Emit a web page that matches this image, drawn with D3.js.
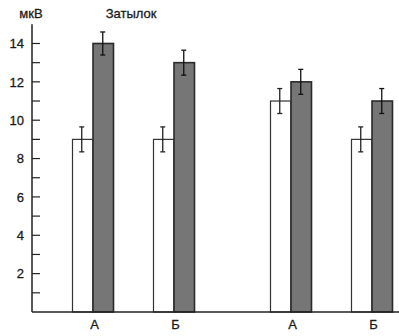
<!DOCTYPE html>
<html>
<head>
<meta charset="utf-8">
<script src="https://cdn.jsdelivr.net/npm/d3@7"></script>
<style>
  html, body { margin: 0; padding: 0; background: #fff; }
  svg { display: block; }
  text { font-family: "Liberation Sans", Arial, sans-serif; fill: #1a1a1a;
         stroke: #1a1a1a; stroke-width: 0.3; }
</style>
</head>
<body>
<svg id="chart" width="399" height="336"></svg>
<script>
// Two clusters of paired bars (А, Б) — occipital recording, µV
const clusters = ["I", "II"];
const conditions = ["А", "Б"];
// light (left) and dark (right) bar per condition, cluster by cluster
const lightValues = [9, 9, 11, 9];
const darkValues = [14, 13, 12, 11];
const lightErrors = [0.65, 0.65, 0.65, 0.65];
const darkErrors = [0.6, 0.65, 0.65, 0.65];
const yTicks = [2, 4, 6, 8, 10, 12, 14];
const yMinorTicks = [1, 3, 5, 7, 9, 11, 13];
const unitLabel = "мкВ";
const title = "Затылок";

const rows = [];
clusters.forEach((c, ci) => conditions.forEach((k, ki) => {
  const i = ci * conditions.length + ki;
  rows.push({ cluster: c, cond: k, light: lightValues[i], dark: darkValues[i],
              lightErr: lightErrors[i], darkErr: darkErrors[i] });
}));

const svg = d3.select("#chart");
const axisX = 32;
const y = d3.scaleLinear().domain([0, 15]).range([312, 24.3]);
const xCluster = d3.scalePoint().domain(clusters).range([133.5, 331.5]);
const xCond = d3.scalePoint().domain(conditions).range([-40.5, 40.5]);
const barW = 20.5;
const center = d => xCluster(d.cluster) + xCond(d.cond);

// bars
const g = svg.append("g");
g.selectAll("rect.light").data(rows).join("rect")
  .attr("class", "light")
  .attr("x", d => center(d) - barW)
  .attr("y", d => y(d.light))
  .attr("width", barW)
  .attr("height", d => y(0) - y(d.light))
  .attr("fill", "#fff")
  .attr("stroke", "#333")
  .attr("stroke-width", 1.2);

g.selectAll("rect.dark").data(rows).join("rect")
  .attr("class", "dark")
  .attr("x", d => center(d))
  .attr("y", d => y(d.dark))
  .attr("width", barW)
  .attr("height", d => y(0) - y(d.dark))
  .attr("fill", "#767676")
  .attr("stroke", "#2a2a2a")
  .attr("stroke-width", 1.6);

// error bars: vertical whisker plus top and bottom caps
function errorBars(cls, cx, val, err, color) {
  const eg = svg.append("g").attr("stroke", color).attr("stroke-width", 1.3);
  eg.selectAll("line.whisker-" + cls).data(rows).join("line")
    .attr("class", "whisker-" + cls)
    .attr("x1", d => cx(d)).attr("x2", d => cx(d))
    .attr("y1", d => y(val(d) + err(d))).attr("y2", d => y(val(d) - err(d)));
  [["top", 1], ["bottom", -1]].forEach(([name, sign]) => {
    eg.selectAll("line.cap-" + cls + "-" + name).data(rows).join("line")
      .attr("class", "cap-" + cls + "-" + name)
      .attr("x1", d => cx(d) - 2.5).attr("x2", d => cx(d) + 2.5)
      .attr("y1", d => y(val(d) + sign * err(d)))
      .attr("y2", d => y(val(d) + sign * err(d)));
  });
}
errorBars("light", d => center(d) - barW / 2 - 1, d => d.light, d => d.lightErr, "#222");
errorBars("dark", d => center(d) + barW / 2 - 0.5, d => d.dark, d => d.darkErr, "#111");

// y axis with inward ticks
const axis = svg.append("g").attr("stroke", "#222");
axis.append("line").attr("x1", axisX).attr("x2", axisX)
  .attr("y1", y(15)).attr("y2", y(0)).attr("stroke-width", 1.5);
axis.append("line").attr("x1", axisX).attr("x2", 399)
  .attr("y1", y(0)).attr("y2", y(0)).attr("stroke-width", 1.5);
axis.selectAll("line.major").data(yTicks).join("line")
  .attr("class", "major")
  .attr("x1", axisX).attr("x2", axisX + 8)
  .attr("y1", d => y(d)).attr("y2", d => y(d)).attr("stroke-width", 1.2);
axis.selectAll("line.minor").data(yMinorTicks).join("line")
  .attr("class", "minor")
  .attr("x1", axisX).attr("x2", axisX + 8)
  .attr("y1", d => y(d)).attr("y2", d => y(d)).attr("stroke-width", 1.2);

svg.selectAll("text.tick").data(yTicks).join("text")
  .attr("class", "tick")
  .attr("x", 24).attr("y", d => y(d))
  .attr("dy", "0.36em")
  .attr("text-anchor", "end")
  .attr("font-size", 13)
  .text(d => d);

// category labels
svg.selectAll("text.cat").data(rows).join("text")
  .attr("class", "cat")
  .attr("x", d => center(d) + 1.5)
  .attr("y", 329)
  .attr("text-anchor", "middle")
  .attr("font-size", 13)
  .text(d => d.cond);

svg.append("text").attr("x", 31).attr("y", 18)
  .attr("text-anchor", "middle").attr("font-size", 13).text(unitLabel);
svg.append("text").attr("x", 131).attr("y", 18)
  .attr("text-anchor", "middle").attr("font-size", 13).text(title);
</script>
</body>
</html>
